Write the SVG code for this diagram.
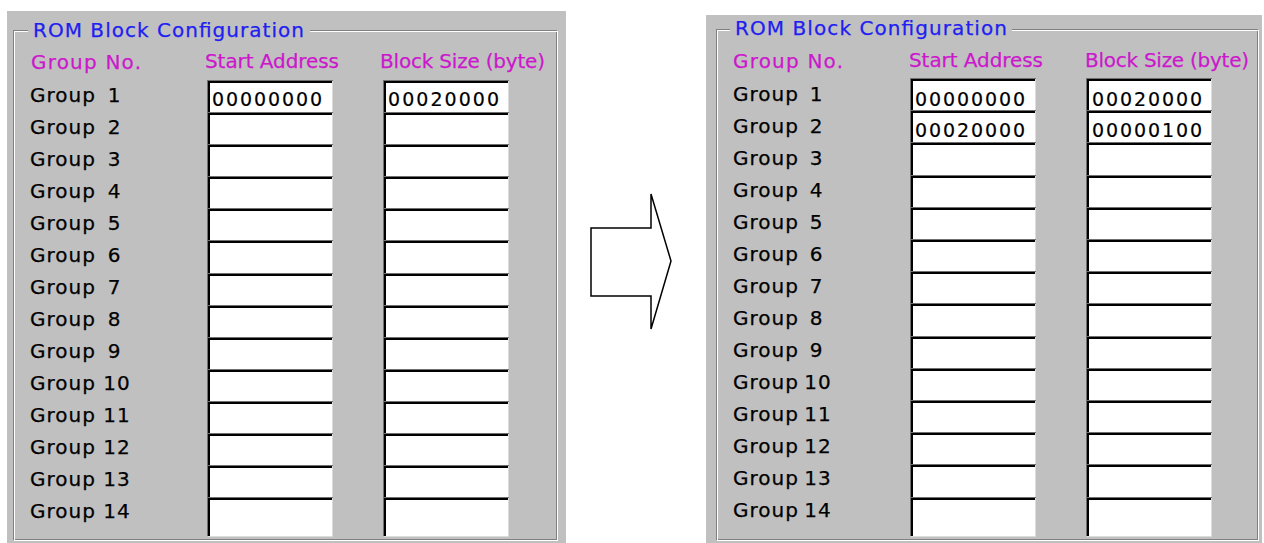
<svg xmlns="http://www.w3.org/2000/svg" xmlns:xlink="http://www.w3.org/1999/xlink" width="1264" height="543" viewBox="0 0 1264 543">
<style>
text{font-family:"DejaVu Sans","Liberation Sans",sans-serif}
.title{font-size:20px;fill:#2020f0;stroke:#2020f0;stroke-width:0.25px}
.hdr{font-size:20px;fill:#cc18cc;stroke:#cc18cc;stroke-width:0.25px}
.lbl{font-size:20px;fill:#000;stroke:#000;stroke-width:0.25px;letter-spacing:1px;white-space:pre}
.s1{word-spacing:3.5px}
.s2{word-spacing:-2px}
.t1{word-spacing:4.5px}
.t2{word-spacing:0px}
.val{font-size:19px;fill:#000;stroke:#000;stroke-width:0.2px}
.bg{fill:#c0c0c0}
.etchD{fill:none;stroke:#808080;stroke-width:1}
.etchL{fill:none;stroke:#ffffff;stroke-width:1}
</style>
<defs>
<g id="box">
<rect width="126" height="33" fill="#fff"/>
<path d="M0,0.5H126M0.5,0V33" stroke="#707070" fill="none"/>
<path d="M1,2H125M2,1V33" stroke="#000" stroke-width="2" fill="none"/>
<path d="M125.5,1V33" stroke="#dcdcdc" fill="none"/>
</g>
<g id="boxL">
<rect width="126" height="39" fill="#fff"/>
<path d="M0,0.5H126M0.5,0V39" stroke="#707070" fill="none"/>
<path d="M1,2H125M2,1V39" stroke="#000" stroke-width="2" fill="none"/>
<path d="M125.5,1V39.5H1" stroke="#dcdcdc" fill="none"/>
</g>
</defs>

<g id="panel-left">
<rect class="bg" x="7" y="11" width="559" height="532"/>
<rect class="etchD" x="13.5" y="30.5" width="543" height="509"/>
<rect class="etchL" x="14.5" y="31.5" width="543" height="509"/>
<rect class="bg" x="28" y="20" width="282" height="20"/>
<text class="title" x="33" y="37" textLength="271">ROM Block Configuration</text>
<text class="hdr" x="31" y="69" textLength="110">Group No.</text>
<text class="hdr" x="205" y="68" textLength="134">Start Address</text>
<text class="hdr" x="380" y="68" textLength="165">Block Size (byte)</text>
<g id="left-labels">
<text class="lbl t1" x="30" y="102">Group 1</text>
<text class="lbl t1" x="30" y="134">Group 2</text>
<text class="lbl t1" x="30" y="166">Group 3</text>
<text class="lbl t1" x="30" y="198">Group 4</text>
<text class="lbl t1" x="30" y="230">Group 5</text>
<text class="lbl t1" x="30" y="262">Group 6</text>
<text class="lbl t1" x="30" y="294">Group 7</text>
<text class="lbl t1" x="30" y="326">Group 8</text>
<text class="lbl t1" x="30" y="358">Group 9</text>
<text class="lbl t2" x="30" y="390">Group 10</text>
<text class="lbl t2" x="30" y="422">Group 11</text>
<text class="lbl t2" x="30" y="454">Group 12</text>
<text class="lbl t2" x="30" y="486">Group 13</text>
<text class="lbl t2" x="30" y="518">Group 14</text>
</g>
<g id="left-start-boxes">
<use xlink:href="#box" x="207" y="80"/>
<use xlink:href="#box" x="207" y="112"/>
<use xlink:href="#box" x="207" y="144"/>
<use xlink:href="#box" x="207" y="176"/>
<use xlink:href="#box" x="207" y="208"/>
<use xlink:href="#box" x="207" y="240"/>
<use xlink:href="#box" x="207" y="273"/>
<use xlink:href="#box" x="207" y="305"/>
<use xlink:href="#box" x="207" y="337"/>
<use xlink:href="#box" x="207" y="369"/>
<use xlink:href="#box" x="207" y="401"/>
<use xlink:href="#box" x="207" y="433"/>
<use xlink:href="#box" x="207" y="465"/>
<use xlink:href="#boxL" x="207" y="497"/>
</g>
<g id="left-size-boxes">
<use xlink:href="#box" x="383" y="80"/>
<use xlink:href="#box" x="383" y="112"/>
<use xlink:href="#box" x="383" y="144"/>
<use xlink:href="#box" x="383" y="176"/>
<use xlink:href="#box" x="383" y="208"/>
<use xlink:href="#box" x="383" y="240"/>
<use xlink:href="#box" x="383" y="273"/>
<use xlink:href="#box" x="383" y="305"/>
<use xlink:href="#box" x="383" y="337"/>
<use xlink:href="#box" x="383" y="369"/>
<use xlink:href="#box" x="383" y="401"/>
<use xlink:href="#box" x="383" y="433"/>
<use xlink:href="#box" x="383" y="465"/>
<use xlink:href="#boxL" x="383" y="497"/>
</g>
<text class="val" x="212" y="106" textLength="110">00000000</text>
<text class="val" x="388" y="106" textLength="111">00020000</text>
</g>

<g id="connectors">
<polygon points="591,228 651,228 651,194 671,261 651,329 651,296 591,296" fill="#fff" stroke="#000" stroke-width="1.5" stroke-linejoin="miter"/>
</g>

<g id="panel-right">
<rect class="bg" x="706" y="15" width="556" height="528"/>
<rect class="etchD" x="716.5" y="29.5" width="541" height="510"/>
<rect class="etchL" x="717.5" y="30.5" width="541" height="510"/>
<rect class="bg" x="730" y="19" width="282" height="20"/>
<text class="title" x="735" y="35" textLength="272">ROM Block Configuration</text>
<text class="hdr" x="733" y="68" textLength="110">Group No.</text>
<text class="hdr" x="909" y="67" textLength="134">Start Address</text>
<text class="hdr" x="1085" y="67" textLength="164">Block Size (byte)</text>
<g id="right-labels">
<text class="lbl s1" x="733" y="101">Group 1</text>
<text class="lbl s1" x="733" y="133">Group 2</text>
<text class="lbl s1" x="733" y="165">Group 3</text>
<text class="lbl s1" x="733" y="197">Group 4</text>
<text class="lbl s1" x="733" y="229">Group 5</text>
<text class="lbl s1" x="733" y="261">Group 6</text>
<text class="lbl s1" x="733" y="293">Group 7</text>
<text class="lbl s1" x="733" y="325">Group 8</text>
<text class="lbl s1" x="733" y="357">Group 9</text>
<text class="lbl s2" x="733" y="389">Group 10</text>
<text class="lbl s2" x="733" y="421">Group 11</text>
<text class="lbl s2" x="733" y="453">Group 12</text>
<text class="lbl s2" x="733" y="485">Group 13</text>
<text class="lbl s2" x="733" y="517">Group 14</text>
</g>
<g id="right-start-boxes">
<use xlink:href="#box" x="910" y="78"/>
<use xlink:href="#box" x="910" y="110"/>
<use xlink:href="#box" x="910" y="142"/>
<use xlink:href="#box" x="910" y="175"/>
<use xlink:href="#box" x="910" y="207"/>
<use xlink:href="#box" x="910" y="239"/>
<use xlink:href="#box" x="910" y="271"/>
<use xlink:href="#box" x="910" y="303"/>
<use xlink:href="#box" x="910" y="336"/>
<use xlink:href="#box" x="910" y="368"/>
<use xlink:href="#box" x="910" y="400"/>
<use xlink:href="#box" x="910" y="432"/>
<use xlink:href="#box" x="910" y="464"/>
<use xlink:href="#boxL" x="910" y="497"/>
</g>
<g id="right-size-boxes">
<use xlink:href="#box" x="1086" y="78"/>
<use xlink:href="#box" x="1086" y="110"/>
<use xlink:href="#box" x="1086" y="142"/>
<use xlink:href="#box" x="1086" y="175"/>
<use xlink:href="#box" x="1086" y="207"/>
<use xlink:href="#box" x="1086" y="239"/>
<use xlink:href="#box" x="1086" y="271"/>
<use xlink:href="#box" x="1086" y="303"/>
<use xlink:href="#box" x="1086" y="336"/>
<use xlink:href="#box" x="1086" y="368"/>
<use xlink:href="#box" x="1086" y="400"/>
<use xlink:href="#box" x="1086" y="432"/>
<use xlink:href="#box" x="1086" y="464"/>
<use xlink:href="#boxL" x="1086" y="497"/>
</g>
<text class="val" x="915" y="106" textLength="110">00000000</text>
<text class="val" x="915" y="137" textLength="110">00020000</text>
<text class="val" x="1092" y="106" textLength="110">00020000</text>
<text class="val" x="1092" y="137" textLength="110">00000100</text>
</g>
</svg>
